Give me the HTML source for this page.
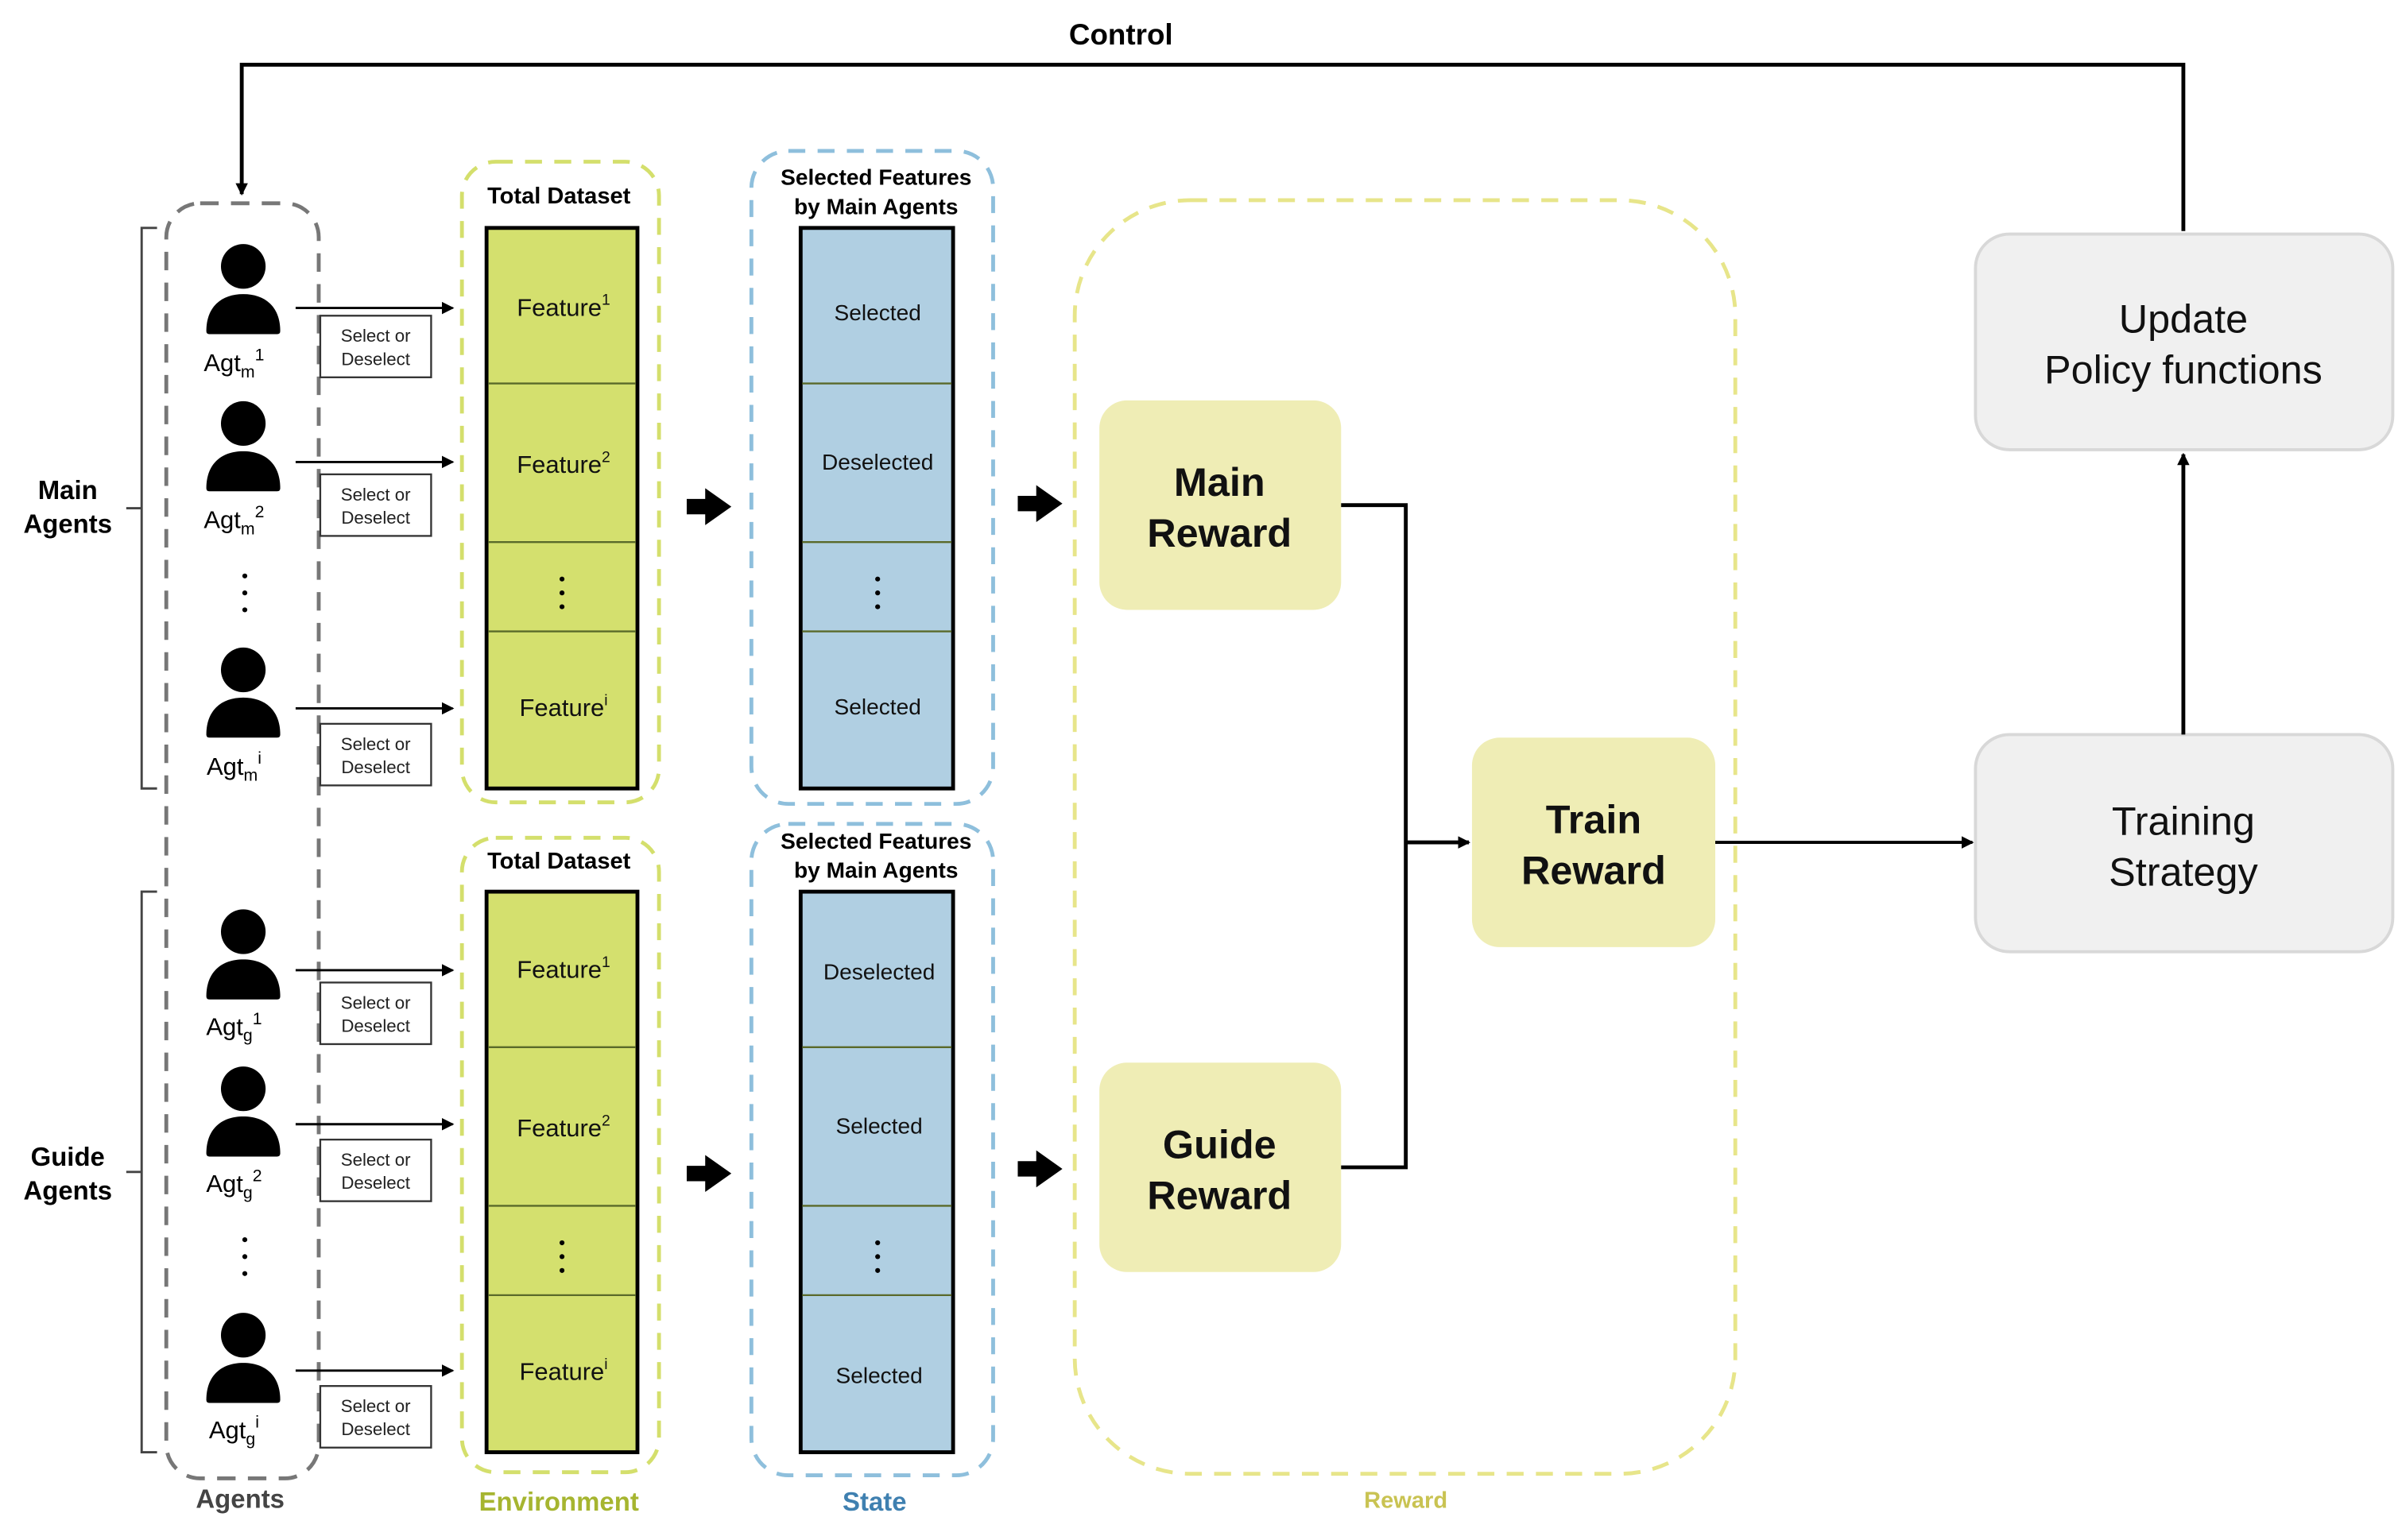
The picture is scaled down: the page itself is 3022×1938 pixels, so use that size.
<!DOCTYPE html>
<html><head><meta charset="utf-8"><style>
html,body{margin:0;padding:0;background:#fff;}
svg{display:block;}
text{font-family:"Liberation Sans","DejaVu Sans",sans-serif;}
</style></head><body>
<svg width="3022" height="1938" viewBox="0 0 1560 1000" preserveAspectRatio="none" xmlns="http://www.w3.org/2000/svg">
<defs>
<marker id="ah" markerWidth="8" markerHeight="8" refX="7" refY="4" orient="auto" markerUnits="userSpaceOnUse"><path d="M0,0 L8,4 L0,8 z" fill="#000"/></marker>
<g id="person"><circle cx="0" cy="0" r="14.5" fill="#000"/><path d="M-24,42 C-24,26 -14,18 0,18 C14,18 24,26 24,42 Q24,44 22,44 L-22,44 Q-24,44 -24,42 z" fill="#000"/></g>
<g id="bigarrow"><path d="M0,-5 L12,-5 L12,-12 L29,0 L12,12 L12,5 L0,5 z" fill="#000"/></g>
</defs>

<text x="728" y="29" font-size="19" font-weight="bold" text-anchor="middle">Control</text>
<path d="M1418,150 L1418,42 L157,42 L157,126" fill="none" stroke="#000" stroke-width="2.5" marker-end="url(#ah)"/>

<rect x="108" y="132" width="99" height="828" rx="22" fill="none" stroke="#777" stroke-width="2.5" stroke-dasharray="12,8"/>
<path d="M102,148 L92,148 L92,512 L102,512 M92,330 L82,330" fill="none" stroke="#444" stroke-width="1.5"/>
<path d="M102,579 L92,579 L92,943 L102,943 M92,761 L82,761" fill="none" stroke="#444" stroke-width="1.5"/>
<text x="44" y="324" font-size="17" font-weight="bold" text-anchor="middle">Main</text>
<text x="44" y="346" font-size="17" font-weight="bold" text-anchor="middle">Agents</text>
<text x="44" y="757" font-size="17" font-weight="bold" text-anchor="middle">Guide</text>
<text x="44" y="779" font-size="17" font-weight="bold" text-anchor="middle">Agents</text>

<g font-size="16" text-anchor="middle">
<use href="#person" x="158" y="173"/><text x="152" y="241">Agt<tspan font-size="11" dy="4">m</tspan><tspan font-size="11" dy="-11">1</tspan></text>
<use href="#person" x="158" y="275"/><text x="152" y="343">Agt<tspan font-size="11" dy="4">m</tspan><tspan font-size="11" dy="-11">2</tspan></text>
<use href="#person" x="158" y="435"/><text x="152" y="503">Agt<tspan font-size="11" dy="4">m</tspan><tspan font-size="11" dy="-11">i</tspan></text>
<use href="#person" x="158" y="605"/><text x="152" y="672">Agt<tspan font-size="11" dy="4">g</tspan><tspan font-size="11" dy="-11">1</tspan></text>
<use href="#person" x="158" y="707"/><text x="152" y="774">Agt<tspan font-size="11" dy="4">g</tspan><tspan font-size="11" dy="-11">2</tspan></text>
<use href="#person" x="158" y="867"/><text x="152" y="934">Agt<tspan font-size="11" dy="4">g</tspan><tspan font-size="11" dy="-11">i</tspan></text>
</g>
<g fill="#000"><circle cx="159" cy="374" r="1.6"/><circle cx="159" cy="385" r="1.6"/><circle cx="159" cy="396" r="1.6"/>
<circle cx="159" cy="805" r="1.6"/><circle cx="159" cy="816" r="1.6"/><circle cx="159" cy="827" r="1.6"/></g>

<g stroke="#000" stroke-width="1.5" fill="none" marker-end="url(#ah)">
<line x1="192" y1="200" x2="294" y2="200"/><line x1="192" y1="300" x2="294" y2="300"/><line x1="192" y1="460" x2="294" y2="460"/>
<line x1="192" y1="630" x2="294" y2="630"/><line x1="192" y1="730" x2="294" y2="730"/><line x1="192" y1="890" x2="294" y2="890"/>
</g>
<g font-size="11.5" text-anchor="middle" fill="#222">
<rect x="208" y="205" width="72" height="40" fill="#fff" stroke="#333" stroke-width="1.2"/><text x="244" y="222">Select or</text><text x="244" y="237">Deselect</text>
<rect x="208" y="308" width="72" height="40" fill="#fff" stroke="#333" stroke-width="1.2"/><text x="244" y="325">Select or</text><text x="244" y="340">Deselect</text>
<rect x="208" y="470" width="72" height="40" fill="#fff" stroke="#333" stroke-width="1.2"/><text x="244" y="487">Select or</text><text x="244" y="502">Deselect</text>
<rect x="208" y="638" width="72" height="40" fill="#fff" stroke="#333" stroke-width="1.2"/><text x="244" y="655">Select or</text><text x="244" y="670">Deselect</text>
<rect x="208" y="740" width="72" height="40" fill="#fff" stroke="#333" stroke-width="1.2"/><text x="244" y="757">Select or</text><text x="244" y="772">Deselect</text>
<rect x="208" y="900" width="72" height="40" fill="#fff" stroke="#333" stroke-width="1.2"/><text x="244" y="917">Select or</text><text x="244" y="932">Deselect</text>
</g>

<rect x="300" y="105" width="128" height="416" rx="22" fill="none" stroke="#d4df6c" stroke-width="2.5" stroke-dasharray="11,8"/>
<rect x="300" y="544" width="128" height="412" rx="22" fill="none" stroke="#d4df6c" stroke-width="2.5" stroke-dasharray="11,8"/>
<text x="363" y="132" font-size="15" font-weight="bold" text-anchor="middle">Total Dataset</text>
<text x="363" y="564" font-size="15" font-weight="bold" text-anchor="middle">Total Dataset</text>
<g stroke="#000" stroke-width="2.5" fill="#d4e06e">
<rect x="316" y="148" width="98" height="364"/><rect x="316" y="579" width="98" height="364"/></g>
<g stroke="#5a6a2a" stroke-width="1.2">
<line x1="317" y1="249" x2="413" y2="249"/><line x1="317" y1="352" x2="413" y2="352"/><line x1="317" y1="410" x2="413" y2="410"/>
<line x1="317" y1="680" x2="413" y2="680"/><line x1="317" y1="783" x2="413" y2="783"/><line x1="317" y1="841" x2="413" y2="841"/></g>
<g font-size="16" text-anchor="middle" fill="#111">
<text x="366" y="205">Feature<tspan font-size="10" dy="-7">1</tspan></text>
<text x="366" y="307">Feature<tspan font-size="10" dy="-7">2</tspan></text>
<text x="366" y="465">Feature<tspan font-size="10" dy="-7">i</tspan></text>
<text x="366" y="635">Feature<tspan font-size="10" dy="-7">1</tspan></text>
<text x="366" y="738">Feature<tspan font-size="10" dy="-7">2</tspan></text>
<text x="366" y="896">Feature<tspan font-size="10" dy="-7">i</tspan></text>
</g>

<use href="#bigarrow" x="446" y="329"/><use href="#bigarrow" x="446" y="762"/>
<use href="#bigarrow" x="661" y="327"/><use href="#bigarrow" x="661" y="759"/>

<rect x="488" y="98" width="157" height="424" rx="24" fill="none" stroke="#8ebfdc" stroke-width="2.5" stroke-dasharray="11,8"/>
<rect x="488" y="535" width="157" height="423" rx="24" fill="none" stroke="#8ebfdc" stroke-width="2.5" stroke-dasharray="11,8"/>
<g font-size="14.5" font-weight="bold" text-anchor="middle">
<text x="569" y="120">Selected Features</text><text x="569" y="139">by Main Agents</text>
<text x="569" y="551">Selected Features</text><text x="569" y="570">by Main Agents</text></g>
<g stroke="#000" stroke-width="2.5" fill="#b0cfe2">
<rect x="520" y="148" width="99" height="364"/><rect x="520" y="579" width="99" height="364"/></g>
<g stroke="#5a6a2a" stroke-width="1.2">
<line x1="521" y1="249" x2="618" y2="249"/><line x1="521" y1="352" x2="618" y2="352"/><line x1="521" y1="410" x2="618" y2="410"/>
<line x1="521" y1="680" x2="618" y2="680"/><line x1="521" y1="783" x2="618" y2="783"/><line x1="521" y1="841" x2="618" y2="841"/></g>
<g font-size="14.5" text-anchor="middle" fill="#111">
<text x="570" y="208">Selected</text><text x="570" y="305">Deselected</text><text x="570" y="464">Selected</text>
<text x="571" y="636">Deselected</text><text x="571" y="736">Selected</text><text x="571" y="898">Selected</text></g>

<g fill="#000"><circle cx="365" cy="376" r="1.6"/><circle cx="365" cy="385" r="1.6"/><circle cx="365" cy="394" r="1.6"/>
<circle cx="365" cy="807" r="1.6"/><circle cx="365" cy="816" r="1.6"/><circle cx="365" cy="825" r="1.6"/>
<circle cx="570" cy="376" r="1.6"/><circle cx="570" cy="385" r="1.6"/><circle cx="570" cy="394" r="1.6"/>
<circle cx="570" cy="807" r="1.6"/><circle cx="570" cy="816" r="1.6"/><circle cx="570" cy="825" r="1.6"/></g>

<rect x="698" y="130" width="429" height="827" rx="75" fill="none" stroke="#e7e58a" stroke-width="2.5" stroke-dasharray="11,8"/>
<g fill="#efedb5">
<rect x="714" y="260" width="157" height="136" rx="18"/><rect x="714" y="690" width="157" height="136" rx="18"/>
<rect x="956" y="479" width="158" height="136" rx="18"/></g>
<g font-size="26" font-weight="bold" text-anchor="middle" fill="#111">
<text x="792" y="322" font-family="DejaVu Sans, sans-serif">Main</text><text x="792" y="355" font-family="DejaVu Sans, sans-serif">Reward</text>
<text x="792" y="752" font-family="DejaVu Sans, sans-serif">Guide</text><text x="792" y="785" font-family="DejaVu Sans, sans-serif">Reward</text>
<text x="1035" y="541" font-family="DejaVu Sans, sans-serif">Train</text><text x="1035" y="574" font-family="DejaVu Sans, sans-serif">Reward</text></g>
<path d="M871,328 L913,328 L913,758 L871,758" fill="none" stroke="#000" stroke-width="2.5"/>
<line x1="913" y1="547" x2="954" y2="547" stroke="#000" stroke-width="2.5" marker-end="url(#ah)"/>
<line x1="1114" y1="547" x2="1281" y2="547" stroke="#000" stroke-width="2" marker-end="url(#ah)"/>

<rect x="1283" y="152" width="271" height="140" rx="22" fill="#f0f0f0" stroke="#d8d8d8" stroke-width="2"/>
<rect x="1283" y="477" width="271" height="141" rx="22" fill="#f0f0f0" stroke="#d8d8d8" stroke-width="2"/>
<g font-size="26" text-anchor="middle" fill="#111">
<text x="1418" y="216" font-family="DejaVu Sans, sans-serif">Update</text><text x="1418" y="249" font-family="DejaVu Sans, sans-serif">Policy functions</text>
<text x="1418" y="542" font-family="DejaVu Sans, sans-serif">Training</text><text x="1418" y="575" font-family="DejaVu Sans, sans-serif">Strategy</text></g>
<line x1="1418" y1="477" x2="1418" y2="295" stroke="#000" stroke-width="2.5" marker-end="url(#ah)"/>

<text x="156" y="979" font-size="17" font-weight="bold" text-anchor="middle" fill="#444">Agents</text>
<text x="363" y="981" font-size="17" font-weight="bold" text-anchor="middle" fill="#a6b530">Environment</text>
<text x="568" y="981" font-size="17" font-weight="bold" text-anchor="middle" fill="#3f80b0">State</text>
<text x="913" y="979" font-size="15" font-weight="bold" text-anchor="middle" fill="#c9c352">Reward</text>
</svg>
</body></html>
